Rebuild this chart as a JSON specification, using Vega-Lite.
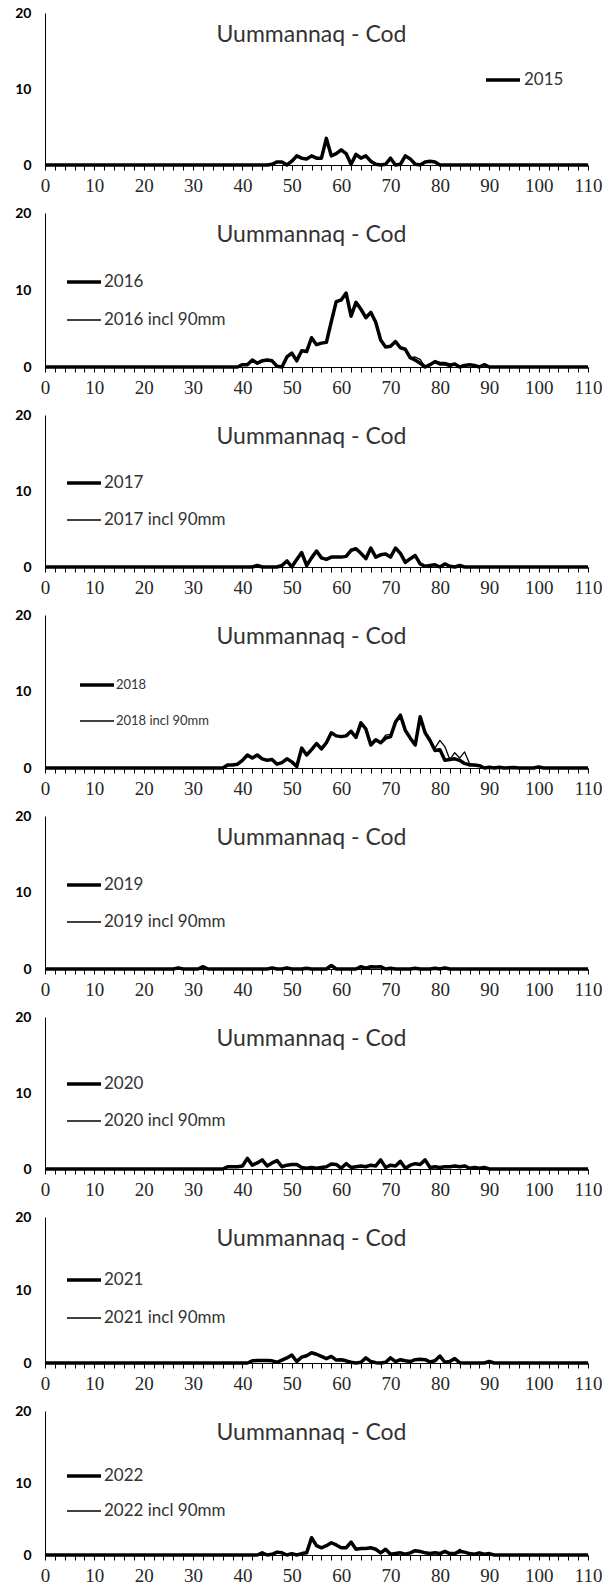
{
"$schema": "https://vega.github.io/schema/vega-lite/v6.json",
"padding": {"left": 14, "top": 6, "right": 0, "bottom": 0},
"background": "white",
"spacing": 48,
"bounds": "flush",
"resolve": {"scale": {"strokeWidth": "independent", "color": "independent"}, "legend": {"strokeWidth": "independent", "color": "independent"}},
"config": {
  "view": {"stroke": null},
  "font": "Lato",
  "title": {"font": "Lato", "fontSize": 23, "fontWeight": "normal", "color": "#333333", "anchor": "middle", "frame": "group", "baseline": "middle", "offset": 0, "dy": 45, "dx": -5},
  "axisX": {"title": null, "grid": false, "domainColor": "black", "tickColor": "black", "tickSize": 5, "labelFont": "Liberation Sans Narrow", "labelFontSize": 19, "labelColor": "#262626", "labelPadding": 6, "labelFlush": false, "labelOverlap": false},
  "axisY": {"title": null, "grid": false, "ticks": false, "tickSize": 0, "domainColor": "black", "labelFont": "Lato", "labelFontWeight": "bold", "labelFontSize": 14, "labelColor": "black", "labelPadding": 14},
  "legend": {"orient": "none", "title": null, "symbolSize": 1156, "symbolStrokeColor": "black", "symbolType": "stroke", "labelFont": "Lato", "labelFontSize": 17, "labelColor": "#333333", "rowPadding": 11, "labelOffset": 1, "padding": 0},
  "line": {"color": "black", "strokeJoin": "round"}
},
"datasets": {
"d2015": [
{"s":"2015","x":0,"y":0},{"s":"2015","x":45,"y":0},{"s":"2015","x":46,"y":0.1},{"s":"2015","x":47,"y":0.4},{"s":"2015","x":48,"y":0.4},{"s":"2015","x":49,"y":0},{"s":"2015","x":50,"y":0.5},{"s":"2015","x":51,"y":1.2},{"s":"2015","x":52,"y":0.9},{"s":"2015","x":53,"y":0.8},{"s":"2015","x":54,"y":1.2},{"s":"2015","x":55,"y":0.9},{"s":"2015","x":56,"y":0.9},{"s":"2015","x":57,"y":3.5},{"s":"2015","x":58,"y":1.2},{"s":"2015","x":59,"y":1.5},{"s":"2015","x":60,"y":2.0},{"s":"2015","x":61,"y":1.5},{"s":"2015","x":62,"y":0.1},{"s":"2015","x":63,"y":1.4},{"s":"2015","x":64,"y":0.9},{"s":"2015","x":65,"y":1.2},{"s":"2015","x":66,"y":0.5},{"s":"2015","x":67,"y":0.1},{"s":"2015","x":68,"y":0},{"s":"2015","x":69,"y":0.1},{"s":"2015","x":70,"y":0.9},{"s":"2015","x":71,"y":0},{"s":"2015","x":72,"y":0.1},{"s":"2015","x":73,"y":1.2},{"s":"2015","x":74,"y":0.8},{"s":"2015","x":75,"y":0.1},{"s":"2015","x":76,"y":0},{"s":"2015","x":77,"y":0.4},{"s":"2015","x":78,"y":0.5},{"s":"2015","x":79,"y":0.4},{"s":"2015","x":80,"y":0},{"s":"2015","x":110,"y":0}
],
"d2016": [
{"s":"2016","x":0,"y":0},{"s":"2016","x":39,"y":0},{"s":"2016","x":40,"y":0.3},{"s":"2016","x":41,"y":0.3},{"s":"2016","x":42,"y":0.9},{"s":"2016","x":43,"y":0.5},{"s":"2016","x":44,"y":0.8},{"s":"2016","x":45,"y":0.9},{"s":"2016","x":46,"y":0.8},{"s":"2016","x":47,"y":0.1},{"s":"2016","x":48,"y":0},{"s":"2016","x":49,"y":1.3},{"s":"2016","x":50,"y":1.8},{"s":"2016","x":51,"y":0.8},{"s":"2016","x":52,"y":2.1},{"s":"2016","x":53,"y":2.0},{"s":"2016","x":54,"y":3.8},{"s":"2016","x":55,"y":2.9},{"s":"2016","x":56,"y":3.1},{"s":"2016","x":57,"y":3.2},{"s":"2016","x":58,"y":5.9},{"s":"2016","x":59,"y":8.5},{"s":"2016","x":60,"y":8.7},{"s":"2016","x":61,"y":9.6},{"s":"2016","x":62,"y":6.6},{"s":"2016","x":63,"y":8.4},{"s":"2016","x":64,"y":7.5},{"s":"2016","x":65,"y":6.4},{"s":"2016","x":66,"y":7.1},{"s":"2016","x":67,"y":5.8},{"s":"2016","x":68,"y":3.5},{"s":"2016","x":69,"y":2.6},{"s":"2016","x":70,"y":2.7},{"s":"2016","x":71,"y":3.3},{"s":"2016","x":72,"y":2.5},{"s":"2016","x":73,"y":2.3},{"s":"2016","x":74,"y":1.2},{"s":"2016","x":75,"y":0.9},{"s":"2016","x":76,"y":0.5},{"s":"2016","x":77,"y":0},{"s":"2016","x":78,"y":0.3},{"s":"2016","x":79,"y":0.7},{"s":"2016","x":80,"y":0.4},{"s":"2016","x":81,"y":0.4},{"s":"2016","x":82,"y":0.2},{"s":"2016","x":83,"y":0.4},{"s":"2016","x":84,"y":0},{"s":"2016","x":85,"y":0.2},{"s":"2016","x":86,"y":0.3},{"s":"2016","x":87,"y":0.2},{"s":"2016","x":88,"y":0},{"s":"2016","x":89,"y":0.3},{"s":"2016","x":90,"y":0},{"s":"2016","x":110,"y":0},
{"s":"2016 incl 90mm","x":0,"y":0},{"s":"2016 incl 90mm","x":39,"y":0},{"s":"2016 incl 90mm","x":40,"y":0.3},{"s":"2016 incl 90mm","x":41,"y":0.3},{"s":"2016 incl 90mm","x":42,"y":0.9},{"s":"2016 incl 90mm","x":43,"y":0.5},{"s":"2016 incl 90mm","x":44,"y":0.8},{"s":"2016 incl 90mm","x":45,"y":0.9},{"s":"2016 incl 90mm","x":46,"y":0.8},{"s":"2016 incl 90mm","x":47,"y":0.1},{"s":"2016 incl 90mm","x":48,"y":0},{"s":"2016 incl 90mm","x":49,"y":1.3},{"s":"2016 incl 90mm","x":50,"y":1.8},{"s":"2016 incl 90mm","x":51,"y":0.8},{"s":"2016 incl 90mm","x":52,"y":2.1},{"s":"2016 incl 90mm","x":53,"y":2.0},{"s":"2016 incl 90mm","x":54,"y":3.8},{"s":"2016 incl 90mm","x":55,"y":2.9},{"s":"2016 incl 90mm","x":56,"y":3.1},{"s":"2016 incl 90mm","x":57,"y":3.2},{"s":"2016 incl 90mm","x":58,"y":5.9},{"s":"2016 incl 90mm","x":59,"y":8.5},{"s":"2016 incl 90mm","x":60,"y":8.7},{"s":"2016 incl 90mm","x":61,"y":9.6},{"s":"2016 incl 90mm","x":62,"y":6.6},{"s":"2016 incl 90mm","x":63,"y":8.4},{"s":"2016 incl 90mm","x":64,"y":7.5},{"s":"2016 incl 90mm","x":65,"y":6.4},{"s":"2016 incl 90mm","x":66,"y":7.1},{"s":"2016 incl 90mm","x":67,"y":5.8},{"s":"2016 incl 90mm","x":68,"y":3.5},{"s":"2016 incl 90mm","x":69,"y":2.6},{"s":"2016 incl 90mm","x":70,"y":2.7},{"s":"2016 incl 90mm","x":71,"y":3.3},{"s":"2016 incl 90mm","x":72,"y":2.5},{"s":"2016 incl 90mm","x":73,"y":2.3},{"s":"2016 incl 90mm","x":74,"y":1.2},{"s":"2016 incl 90mm","x":75,"y":1.3},{"s":"2016 incl 90mm","x":76,"y":1.0},{"s":"2016 incl 90mm","x":77,"y":0},{"s":"2016 incl 90mm","x":78,"y":0.3},{"s":"2016 incl 90mm","x":79,"y":0.8},{"s":"2016 incl 90mm","x":80,"y":0.6},{"s":"2016 incl 90mm","x":81,"y":0.6},{"s":"2016 incl 90mm","x":82,"y":0.4},{"s":"2016 incl 90mm","x":83,"y":0.4},{"s":"2016 incl 90mm","x":84,"y":0},{"s":"2016 incl 90mm","x":85,"y":0.2},{"s":"2016 incl 90mm","x":86,"y":0.3},{"s":"2016 incl 90mm","x":87,"y":0.2},{"s":"2016 incl 90mm","x":88,"y":0},{"s":"2016 incl 90mm","x":89,"y":0.3},{"s":"2016 incl 90mm","x":90,"y":0},{"s":"2016 incl 90mm","x":110,"y":0}
],
"d2017": [
{"s":"2017","x":0,"y":0},{"s":"2017","x":42,"y":0},{"s":"2017","x":43,"y":0.2},{"s":"2017","x":44,"y":0},{"s":"2017","x":47,"y":0},{"s":"2017","x":48,"y":0.2},{"s":"2017","x":49,"y":0.8},{"s":"2017","x":50,"y":0},{"s":"2017","x":51,"y":1.0},{"s":"2017","x":52,"y":1.9},{"s":"2017","x":53,"y":0.2},{"s":"2017","x":54,"y":1.2},{"s":"2017","x":55,"y":2.1},{"s":"2017","x":56,"y":1.2},{"s":"2017","x":57,"y":1.0},{"s":"2017","x":58,"y":1.3},{"s":"2017","x":59,"y":1.3},{"s":"2017","x":60,"y":1.3},{"s":"2017","x":61,"y":1.4},{"s":"2017","x":62,"y":2.2},{"s":"2017","x":63,"y":2.4},{"s":"2017","x":64,"y":1.8},{"s":"2017","x":65,"y":1.1},{"s":"2017","x":66,"y":2.5},{"s":"2017","x":67,"y":1.3},{"s":"2017","x":68,"y":1.6},{"s":"2017","x":69,"y":1.7},{"s":"2017","x":70,"y":1.3},{"s":"2017","x":71,"y":2.5},{"s":"2017","x":72,"y":1.8},{"s":"2017","x":73,"y":0.6},{"s":"2017","x":74,"y":1.1},{"s":"2017","x":75,"y":1.5},{"s":"2017","x":76,"y":0.4},{"s":"2017","x":77,"y":0.1},{"s":"2017","x":78,"y":0.2},{"s":"2017","x":79,"y":0.3},{"s":"2017","x":80,"y":0},{"s":"2017","x":81,"y":0.4},{"s":"2017","x":82,"y":0.1},{"s":"2017","x":83,"y":0},{"s":"2017","x":84,"y":0.2},{"s":"2017","x":85,"y":0},{"s":"2017","x":110,"y":0},
{"s":"2017 incl 90mm","x":0,"y":0},{"s":"2017 incl 90mm","x":42,"y":0},{"s":"2017 incl 90mm","x":43,"y":0.2},{"s":"2017 incl 90mm","x":44,"y":0},{"s":"2017 incl 90mm","x":47,"y":0},{"s":"2017 incl 90mm","x":48,"y":0.2},{"s":"2017 incl 90mm","x":49,"y":0.8},{"s":"2017 incl 90mm","x":50,"y":0},{"s":"2017 incl 90mm","x":51,"y":1.0},{"s":"2017 incl 90mm","x":52,"y":1.9},{"s":"2017 incl 90mm","x":53,"y":0.2},{"s":"2017 incl 90mm","x":54,"y":1.2},{"s":"2017 incl 90mm","x":55,"y":2.1},{"s":"2017 incl 90mm","x":56,"y":1.2},{"s":"2017 incl 90mm","x":57,"y":1.0},{"s":"2017 incl 90mm","x":58,"y":1.3},{"s":"2017 incl 90mm","x":59,"y":1.3},{"s":"2017 incl 90mm","x":60,"y":1.3},{"s":"2017 incl 90mm","x":61,"y":1.4},{"s":"2017 incl 90mm","x":62,"y":2.2},{"s":"2017 incl 90mm","x":63,"y":2.4},{"s":"2017 incl 90mm","x":64,"y":1.8},{"s":"2017 incl 90mm","x":65,"y":1.1},{"s":"2017 incl 90mm","x":66,"y":2.5},{"s":"2017 incl 90mm","x":67,"y":1.3},{"s":"2017 incl 90mm","x":68,"y":1.6},{"s":"2017 incl 90mm","x":69,"y":1.7},{"s":"2017 incl 90mm","x":70,"y":1.3},{"s":"2017 incl 90mm","x":71,"y":2.5},{"s":"2017 incl 90mm","x":72,"y":1.8},{"s":"2017 incl 90mm","x":73,"y":0.6},{"s":"2017 incl 90mm","x":74,"y":1.1},{"s":"2017 incl 90mm","x":75,"y":1.5},{"s":"2017 incl 90mm","x":76,"y":0.4},{"s":"2017 incl 90mm","x":77,"y":0.1},{"s":"2017 incl 90mm","x":78,"y":0.2},{"s":"2017 incl 90mm","x":79,"y":0.3},{"s":"2017 incl 90mm","x":80,"y":0},{"s":"2017 incl 90mm","x":81,"y":0.4},{"s":"2017 incl 90mm","x":82,"y":0.1},{"s":"2017 incl 90mm","x":83,"y":0},{"s":"2017 incl 90mm","x":84,"y":0.2},{"s":"2017 incl 90mm","x":85,"y":0},{"s":"2017 incl 90mm","x":110,"y":0}
],
"d2018": [
{"s":"2018","x":0,"y":0},{"s":"2018","x":36,"y":0},{"s":"2018","x":37,"y":0.4},{"s":"2018","x":38,"y":0.4},{"s":"2018","x":39,"y":0.5},{"s":"2018","x":40,"y":1.0},{"s":"2018","x":41,"y":1.7},{"s":"2018","x":42,"y":1.3},{"s":"2018","x":43,"y":1.7},{"s":"2018","x":44,"y":1.2},{"s":"2018","x":45,"y":1.0},{"s":"2018","x":46,"y":1.1},{"s":"2018","x":47,"y":0.5},{"s":"2018","x":48,"y":0.7},{"s":"2018","x":49,"y":1.2},{"s":"2018","x":50,"y":0.8},{"s":"2018","x":51,"y":0.2},{"s":"2018","x":52,"y":2.6},{"s":"2018","x":53,"y":1.7},{"s":"2018","x":54,"y":2.4},{"s":"2018","x":55,"y":3.2},{"s":"2018","x":56,"y":2.5},{"s":"2018","x":57,"y":3.3},{"s":"2018","x":58,"y":4.6},{"s":"2018","x":59,"y":4.2},{"s":"2018","x":60,"y":4.1},{"s":"2018","x":61,"y":4.2},{"s":"2018","x":62,"y":4.8},{"s":"2018","x":63,"y":4.0},{"s":"2018","x":64,"y":5.9},{"s":"2018","x":65,"y":5.1},{"s":"2018","x":66,"y":3.0},{"s":"2018","x":67,"y":3.7},{"s":"2018","x":68,"y":3.3},{"s":"2018","x":69,"y":3.9},{"s":"2018","x":70,"y":4.1},{"s":"2018","x":71,"y":6.0},{"s":"2018","x":72,"y":6.9},{"s":"2018","x":73,"y":4.9},{"s":"2018","x":74,"y":3.9},{"s":"2018","x":75,"y":3.0},{"s":"2018","x":76,"y":6.7},{"s":"2018","x":77,"y":4.6},{"s":"2018","x":78,"y":3.6},{"s":"2018","x":79,"y":2.3},{"s":"2018","x":80,"y":2.4},{"s":"2018","x":81,"y":1.0},{"s":"2018","x":82,"y":1.1},{"s":"2018","x":83,"y":1.2},{"s":"2018","x":84,"y":1.0},{"s":"2018","x":85,"y":0.6},{"s":"2018","x":86,"y":0.4},{"s":"2018","x":87,"y":0.4},{"s":"2018","x":88,"y":0.3},{"s":"2018","x":89,"y":0},{"s":"2018","x":90,"y":0.1},{"s":"2018","x":91,"y":0},{"s":"2018","x":92,"y":0.1},{"s":"2018","x":93,"y":0},{"s":"2018","x":95,"y":0.05},{"s":"2018","x":96,"y":0},{"s":"2018","x":99,"y":0},{"s":"2018","x":100,"y":0.15},{"s":"2018","x":101,"y":0},{"s":"2018","x":110,"y":0},
{"s":"2018 incl 90mm","x":0,"y":0},{"s":"2018 incl 90mm","x":36,"y":0},{"s":"2018 incl 90mm","x":37,"y":0.4},{"s":"2018 incl 90mm","x":38,"y":0.4},{"s":"2018 incl 90mm","x":39,"y":0.5},{"s":"2018 incl 90mm","x":40,"y":1.0},{"s":"2018 incl 90mm","x":41,"y":1.7},{"s":"2018 incl 90mm","x":42,"y":1.3},{"s":"2018 incl 90mm","x":43,"y":1.7},{"s":"2018 incl 90mm","x":44,"y":1.2},{"s":"2018 incl 90mm","x":45,"y":1.0},{"s":"2018 incl 90mm","x":46,"y":1.1},{"s":"2018 incl 90mm","x":47,"y":0.5},{"s":"2018 incl 90mm","x":48,"y":0.7},{"s":"2018 incl 90mm","x":49,"y":1.2},{"s":"2018 incl 90mm","x":50,"y":0.8},{"s":"2018 incl 90mm","x":51,"y":0.2},{"s":"2018 incl 90mm","x":52,"y":2.6},{"s":"2018 incl 90mm","x":53,"y":1.7},{"s":"2018 incl 90mm","x":54,"y":2.4},{"s":"2018 incl 90mm","x":55,"y":3.2},{"s":"2018 incl 90mm","x":56,"y":2.5},{"s":"2018 incl 90mm","x":57,"y":3.3},{"s":"2018 incl 90mm","x":58,"y":4.6},{"s":"2018 incl 90mm","x":59,"y":4.2},{"s":"2018 incl 90mm","x":60,"y":4.1},{"s":"2018 incl 90mm","x":61,"y":4.2},{"s":"2018 incl 90mm","x":62,"y":4.8},{"s":"2018 incl 90mm","x":63,"y":4.0},{"s":"2018 incl 90mm","x":64,"y":5.9},{"s":"2018 incl 90mm","x":65,"y":5.1},{"s":"2018 incl 90mm","x":66,"y":3.0},{"s":"2018 incl 90mm","x":67,"y":3.7},{"s":"2018 incl 90mm","x":68,"y":3.4},{"s":"2018 incl 90mm","x":69,"y":4.3},{"s":"2018 incl 90mm","x":70,"y":4.4},{"s":"2018 incl 90mm","x":71,"y":6.0},{"s":"2018 incl 90mm","x":72,"y":6.9},{"s":"2018 incl 90mm","x":73,"y":4.9},{"s":"2018 incl 90mm","x":74,"y":3.9},{"s":"2018 incl 90mm","x":75,"y":3.0},{"s":"2018 incl 90mm","x":76,"y":6.7},{"s":"2018 incl 90mm","x":77,"y":4.6},{"s":"2018 incl 90mm","x":78,"y":3.6},{"s":"2018 incl 90mm","x":79,"y":2.6},{"s":"2018 incl 90mm","x":80,"y":3.6},{"s":"2018 incl 90mm","x":81,"y":2.8},{"s":"2018 incl 90mm","x":82,"y":1.1},{"s":"2018 incl 90mm","x":83,"y":2.0},{"s":"2018 incl 90mm","x":84,"y":1.3},{"s":"2018 incl 90mm","x":85,"y":2.1},{"s":"2018 incl 90mm","x":86,"y":0.6},{"s":"2018 incl 90mm","x":87,"y":0.4},{"s":"2018 incl 90mm","x":88,"y":0.3},{"s":"2018 incl 90mm","x":89,"y":0},{"s":"2018 incl 90mm","x":90,"y":0.1},{"s":"2018 incl 90mm","x":91,"y":0},{"s":"2018 incl 90mm","x":92,"y":0.1},{"s":"2018 incl 90mm","x":93,"y":0},{"s":"2018 incl 90mm","x":95,"y":0.05},{"s":"2018 incl 90mm","x":96,"y":0},{"s":"2018 incl 90mm","x":99,"y":0},{"s":"2018 incl 90mm","x":100,"y":0.15},{"s":"2018 incl 90mm","x":101,"y":0},{"s":"2018 incl 90mm","x":110,"y":0}
],
"d2019": [
{"s":"2019","x":0,"y":0},{"s":"2019","x":26,"y":0},{"s":"2019","x":27,"y":0.15},{"s":"2019","x":28,"y":0},{"s":"2019","x":31,"y":0},{"s":"2019","x":32,"y":0.3},{"s":"2019","x":33,"y":0},{"s":"2019","x":45,"y":0},{"s":"2019","x":46,"y":0.15},{"s":"2019","x":47,"y":0},{"s":"2019","x":48,"y":0},{"s":"2019","x":49,"y":0.15},{"s":"2019","x":50,"y":0},{"s":"2019","x":52,"y":0},{"s":"2019","x":53,"y":0.1},{"s":"2019","x":54,"y":0},{"s":"2019","x":57,"y":0},{"s":"2019","x":58,"y":0.45},{"s":"2019","x":59,"y":0},{"s":"2019","x":63,"y":0},{"s":"2019","x":64,"y":0.3},{"s":"2019","x":65,"y":0.1},{"s":"2019","x":66,"y":0.3},{"s":"2019","x":67,"y":0.25},{"s":"2019","x":68,"y":0.3},{"s":"2019","x":69,"y":0},{"s":"2019","x":70,"y":0.1},{"s":"2019","x":71,"y":0},{"s":"2019","x":74,"y":0},{"s":"2019","x":75,"y":0.1},{"s":"2019","x":76,"y":0},{"s":"2019","x":78,"y":0},{"s":"2019","x":79,"y":0.1},{"s":"2019","x":80,"y":0},{"s":"2019","x":81,"y":0.15},{"s":"2019","x":82,"y":0},{"s":"2019","x":110,"y":0},
{"s":"2019 incl 90mm","x":0,"y":0},{"s":"2019 incl 90mm","x":26,"y":0},{"s":"2019 incl 90mm","x":27,"y":0.15},{"s":"2019 incl 90mm","x":28,"y":0},{"s":"2019 incl 90mm","x":31,"y":0},{"s":"2019 incl 90mm","x":32,"y":0.3},{"s":"2019 incl 90mm","x":33,"y":0},{"s":"2019 incl 90mm","x":45,"y":0},{"s":"2019 incl 90mm","x":46,"y":0.15},{"s":"2019 incl 90mm","x":47,"y":0},{"s":"2019 incl 90mm","x":48,"y":0},{"s":"2019 incl 90mm","x":49,"y":0.15},{"s":"2019 incl 90mm","x":50,"y":0},{"s":"2019 incl 90mm","x":52,"y":0},{"s":"2019 incl 90mm","x":53,"y":0.1},{"s":"2019 incl 90mm","x":54,"y":0},{"s":"2019 incl 90mm","x":57,"y":0},{"s":"2019 incl 90mm","x":58,"y":0.45},{"s":"2019 incl 90mm","x":59,"y":0},{"s":"2019 incl 90mm","x":63,"y":0},{"s":"2019 incl 90mm","x":64,"y":0.3},{"s":"2019 incl 90mm","x":65,"y":0.1},{"s":"2019 incl 90mm","x":66,"y":0.3},{"s":"2019 incl 90mm","x":67,"y":0.25},{"s":"2019 incl 90mm","x":68,"y":0.3},{"s":"2019 incl 90mm","x":69,"y":0},{"s":"2019 incl 90mm","x":70,"y":0.1},{"s":"2019 incl 90mm","x":71,"y":0},{"s":"2019 incl 90mm","x":74,"y":0},{"s":"2019 incl 90mm","x":75,"y":0.1},{"s":"2019 incl 90mm","x":76,"y":0},{"s":"2019 incl 90mm","x":78,"y":0},{"s":"2019 incl 90mm","x":79,"y":0.1},{"s":"2019 incl 90mm","x":80,"y":0},{"s":"2019 incl 90mm","x":81,"y":0.15},{"s":"2019 incl 90mm","x":82,"y":0},{"s":"2019 incl 90mm","x":110,"y":0}
],
"d2020": [
{"s":"2020","x":0,"y":0},{"s":"2020","x":36,"y":0},{"s":"2020","x":37,"y":0.3},{"s":"2020","x":38,"y":0.3},{"s":"2020","x":39,"y":0.3},{"s":"2020","x":40,"y":0.4},{"s":"2020","x":41,"y":1.4},{"s":"2020","x":42,"y":0.5},{"s":"2020","x":43,"y":0.8},{"s":"2020","x":44,"y":1.2},{"s":"2020","x":45,"y":0.4},{"s":"2020","x":46,"y":0.8},{"s":"2020","x":47,"y":1.1},{"s":"2020","x":48,"y":0.3},{"s":"2020","x":49,"y":0.5},{"s":"2020","x":50,"y":0.6},{"s":"2020","x":51,"y":0.6},{"s":"2020","x":52,"y":0.2},{"s":"2020","x":53,"y":0.1},{"s":"2020","x":54,"y":0.2},{"s":"2020","x":55,"y":0.1},{"s":"2020","x":56,"y":0.2},{"s":"2020","x":57,"y":0.3},{"s":"2020","x":58,"y":0.65},{"s":"2020","x":59,"y":0.6},{"s":"2020","x":60,"y":0.1},{"s":"2020","x":61,"y":0.7},{"s":"2020","x":62,"y":0.2},{"s":"2020","x":63,"y":0.3},{"s":"2020","x":64,"y":0.4},{"s":"2020","x":65,"y":0.3},{"s":"2020","x":66,"y":0.5},{"s":"2020","x":67,"y":0.4},{"s":"2020","x":68,"y":1.2},{"s":"2020","x":69,"y":0.2},{"s":"2020","x":70,"y":0.5},{"s":"2020","x":71,"y":0.4},{"s":"2020","x":72,"y":1.0},{"s":"2020","x":73,"y":0.1},{"s":"2020","x":74,"y":0.5},{"s":"2020","x":75,"y":0.7},{"s":"2020","x":76,"y":0.6},{"s":"2020","x":77,"y":1.2},{"s":"2020","x":78,"y":0.2},{"s":"2020","x":79,"y":0.3},{"s":"2020","x":80,"y":0.2},{"s":"2020","x":81,"y":0.3},{"s":"2020","x":82,"y":0.3},{"s":"2020","x":83,"y":0.4},{"s":"2020","x":84,"y":0.3},{"s":"2020","x":85,"y":0.4},{"s":"2020","x":86,"y":0.1},{"s":"2020","x":87,"y":0.2},{"s":"2020","x":88,"y":0.1},{"s":"2020","x":89,"y":0.2},{"s":"2020","x":90,"y":0},{"s":"2020","x":110,"y":0},
{"s":"2020 incl 90mm","x":0,"y":0},{"s":"2020 incl 90mm","x":36,"y":0},{"s":"2020 incl 90mm","x":37,"y":0.3},{"s":"2020 incl 90mm","x":38,"y":0.3},{"s":"2020 incl 90mm","x":39,"y":0.3},{"s":"2020 incl 90mm","x":40,"y":0.4},{"s":"2020 incl 90mm","x":41,"y":1.4},{"s":"2020 incl 90mm","x":42,"y":0.5},{"s":"2020 incl 90mm","x":43,"y":0.8},{"s":"2020 incl 90mm","x":44,"y":1.2},{"s":"2020 incl 90mm","x":45,"y":0.4},{"s":"2020 incl 90mm","x":46,"y":0.8},{"s":"2020 incl 90mm","x":47,"y":1.1},{"s":"2020 incl 90mm","x":48,"y":0.3},{"s":"2020 incl 90mm","x":49,"y":0.5},{"s":"2020 incl 90mm","x":50,"y":0.6},{"s":"2020 incl 90mm","x":51,"y":0.6},{"s":"2020 incl 90mm","x":52,"y":0.2},{"s":"2020 incl 90mm","x":53,"y":0.1},{"s":"2020 incl 90mm","x":54,"y":0.2},{"s":"2020 incl 90mm","x":55,"y":0.1},{"s":"2020 incl 90mm","x":56,"y":0.2},{"s":"2020 incl 90mm","x":57,"y":0.3},{"s":"2020 incl 90mm","x":58,"y":0.65},{"s":"2020 incl 90mm","x":59,"y":0.6},{"s":"2020 incl 90mm","x":60,"y":0.1},{"s":"2020 incl 90mm","x":61,"y":0.7},{"s":"2020 incl 90mm","x":62,"y":0.2},{"s":"2020 incl 90mm","x":63,"y":0.3},{"s":"2020 incl 90mm","x":64,"y":0.4},{"s":"2020 incl 90mm","x":65,"y":0.3},{"s":"2020 incl 90mm","x":66,"y":0.5},{"s":"2020 incl 90mm","x":67,"y":0.4},{"s":"2020 incl 90mm","x":68,"y":1.2},{"s":"2020 incl 90mm","x":69,"y":0.2},{"s":"2020 incl 90mm","x":70,"y":0.5},{"s":"2020 incl 90mm","x":71,"y":0.4},{"s":"2020 incl 90mm","x":72,"y":1.0},{"s":"2020 incl 90mm","x":73,"y":0.1},{"s":"2020 incl 90mm","x":74,"y":0.5},{"s":"2020 incl 90mm","x":75,"y":0.7},{"s":"2020 incl 90mm","x":76,"y":0.6},{"s":"2020 incl 90mm","x":77,"y":1.2},{"s":"2020 incl 90mm","x":78,"y":0.2},{"s":"2020 incl 90mm","x":79,"y":0.3},{"s":"2020 incl 90mm","x":80,"y":0.2},{"s":"2020 incl 90mm","x":81,"y":0.3},{"s":"2020 incl 90mm","x":82,"y":0.3},{"s":"2020 incl 90mm","x":83,"y":0.4},{"s":"2020 incl 90mm","x":84,"y":0.3},{"s":"2020 incl 90mm","x":85,"y":0.4},{"s":"2020 incl 90mm","x":86,"y":0.1},{"s":"2020 incl 90mm","x":87,"y":0.2},{"s":"2020 incl 90mm","x":88,"y":0.1},{"s":"2020 incl 90mm","x":89,"y":0.2},{"s":"2020 incl 90mm","x":90,"y":0},{"s":"2020 incl 90mm","x":110,"y":0}
],
"d2021": [
{"s":"2021","x":0,"y":0},{"s":"2021","x":41,"y":0},{"s":"2021","x":42,"y":0.3},{"s":"2021","x":43,"y":0.35},{"s":"2021","x":44,"y":0.35},{"s":"2021","x":45,"y":0.35},{"s":"2021","x":46,"y":0.3},{"s":"2021","x":47,"y":0.1},{"s":"2021","x":48,"y":0.4},{"s":"2021","x":49,"y":0.7},{"s":"2021","x":50,"y":1.1},{"s":"2021","x":51,"y":0.2},{"s":"2021","x":52,"y":0.8},{"s":"2021","x":53,"y":1.0},{"s":"2021","x":54,"y":1.4},{"s":"2021","x":55,"y":1.2},{"s":"2021","x":56,"y":0.9},{"s":"2021","x":57,"y":0.6},{"s":"2021","x":58,"y":0.9},{"s":"2021","x":59,"y":0.4},{"s":"2021","x":60,"y":0.45},{"s":"2021","x":61,"y":0.3},{"s":"2021","x":62,"y":0.1},{"s":"2021","x":63,"y":0},{"s":"2021","x":64,"y":0.1},{"s":"2021","x":65,"y":0.7},{"s":"2021","x":66,"y":0.2},{"s":"2021","x":67,"y":0.05},{"s":"2021","x":68,"y":0},{"s":"2021","x":69,"y":0.1},{"s":"2021","x":70,"y":0.7},{"s":"2021","x":71,"y":0.2},{"s":"2021","x":72,"y":0.45},{"s":"2021","x":73,"y":0.3},{"s":"2021","x":74,"y":0.2},{"s":"2021","x":75,"y":0.45},{"s":"2021","x":76,"y":0.5},{"s":"2021","x":77,"y":0.45},{"s":"2021","x":78,"y":0.15},{"s":"2021","x":79,"y":0.3},{"s":"2021","x":80,"y":0.95},{"s":"2021","x":81,"y":0.1},{"s":"2021","x":82,"y":0.2},{"s":"2021","x":83,"y":0.6},{"s":"2021","x":84,"y":0.05},{"s":"2021","x":85,"y":0},{"s":"2021","x":89,"y":0},{"s":"2021","x":90,"y":0.2},{"s":"2021","x":91,"y":0},{"s":"2021","x":110,"y":0},
{"s":"2021 incl 90mm","x":0,"y":0},{"s":"2021 incl 90mm","x":41,"y":0},{"s":"2021 incl 90mm","x":42,"y":0.3},{"s":"2021 incl 90mm","x":43,"y":0.35},{"s":"2021 incl 90mm","x":44,"y":0.35},{"s":"2021 incl 90mm","x":45,"y":0.35},{"s":"2021 incl 90mm","x":46,"y":0.3},{"s":"2021 incl 90mm","x":47,"y":0.1},{"s":"2021 incl 90mm","x":48,"y":0.4},{"s":"2021 incl 90mm","x":49,"y":0.7},{"s":"2021 incl 90mm","x":50,"y":1.1},{"s":"2021 incl 90mm","x":51,"y":0.2},{"s":"2021 incl 90mm","x":52,"y":0.8},{"s":"2021 incl 90mm","x":53,"y":1.0},{"s":"2021 incl 90mm","x":54,"y":1.4},{"s":"2021 incl 90mm","x":55,"y":1.2},{"s":"2021 incl 90mm","x":56,"y":0.9},{"s":"2021 incl 90mm","x":57,"y":0.6},{"s":"2021 incl 90mm","x":58,"y":0.9},{"s":"2021 incl 90mm","x":59,"y":0.4},{"s":"2021 incl 90mm","x":60,"y":0.45},{"s":"2021 incl 90mm","x":61,"y":0.3},{"s":"2021 incl 90mm","x":62,"y":0.1},{"s":"2021 incl 90mm","x":63,"y":0},{"s":"2021 incl 90mm","x":64,"y":0.1},{"s":"2021 incl 90mm","x":65,"y":0.7},{"s":"2021 incl 90mm","x":66,"y":0.2},{"s":"2021 incl 90mm","x":67,"y":0.05},{"s":"2021 incl 90mm","x":68,"y":0},{"s":"2021 incl 90mm","x":69,"y":0.1},{"s":"2021 incl 90mm","x":70,"y":0.7},{"s":"2021 incl 90mm","x":71,"y":0.2},{"s":"2021 incl 90mm","x":72,"y":0.45},{"s":"2021 incl 90mm","x":73,"y":0.3},{"s":"2021 incl 90mm","x":74,"y":0.2},{"s":"2021 incl 90mm","x":75,"y":0.45},{"s":"2021 incl 90mm","x":76,"y":0.5},{"s":"2021 incl 90mm","x":77,"y":0.45},{"s":"2021 incl 90mm","x":78,"y":0.15},{"s":"2021 incl 90mm","x":79,"y":0.3},{"s":"2021 incl 90mm","x":80,"y":0.95},{"s":"2021 incl 90mm","x":81,"y":0.1},{"s":"2021 incl 90mm","x":82,"y":0.2},{"s":"2021 incl 90mm","x":83,"y":0.6},{"s":"2021 incl 90mm","x":84,"y":0.05},{"s":"2021 incl 90mm","x":85,"y":0},{"s":"2021 incl 90mm","x":89,"y":0},{"s":"2021 incl 90mm","x":90,"y":0.2},{"s":"2021 incl 90mm","x":91,"y":0},{"s":"2021 incl 90mm","x":110,"y":0}
],
"d2022": [
{"s":"2022","x":0,"y":0},{"s":"2022","x":43,"y":0},{"s":"2022","x":44,"y":0.3},{"s":"2022","x":45,"y":0},{"s":"2022","x":46,"y":0.1},{"s":"2022","x":47,"y":0.4},{"s":"2022","x":48,"y":0.3},{"s":"2022","x":49,"y":0},{"s":"2022","x":50,"y":0.2},{"s":"2022","x":51,"y":0},{"s":"2022","x":52,"y":0.2},{"s":"2022","x":53,"y":0.3},{"s":"2022","x":54,"y":2.4},{"s":"2022","x":55,"y":1.3},{"s":"2022","x":56,"y":1.0},{"s":"2022","x":57,"y":1.3},{"s":"2022","x":58,"y":1.7},{"s":"2022","x":59,"y":1.4},{"s":"2022","x":60,"y":1.0},{"s":"2022","x":61,"y":1.0},{"s":"2022","x":62,"y":1.8},{"s":"2022","x":63,"y":0.8},{"s":"2022","x":64,"y":0.9},{"s":"2022","x":65,"y":0.9},{"s":"2022","x":66,"y":1.0},{"s":"2022","x":67,"y":0.8},{"s":"2022","x":68,"y":0.3},{"s":"2022","x":69,"y":0.8},{"s":"2022","x":70,"y":0.1},{"s":"2022","x":71,"y":0.2},{"s":"2022","x":72,"y":0.3},{"s":"2022","x":73,"y":0.1},{"s":"2022","x":74,"y":0.3},{"s":"2022","x":75,"y":0.6},{"s":"2022","x":76,"y":0.5},{"s":"2022","x":77,"y":0.3},{"s":"2022","x":78,"y":0.2},{"s":"2022","x":79,"y":0.3},{"s":"2022","x":80,"y":0.2},{"s":"2022","x":81,"y":0.5},{"s":"2022","x":82,"y":0.2},{"s":"2022","x":83,"y":0.2},{"s":"2022","x":84,"y":0.5},{"s":"2022","x":85,"y":0.4},{"s":"2022","x":86,"y":0.2},{"s":"2022","x":87,"y":0.1},{"s":"2022","x":88,"y":0.3},{"s":"2022","x":89,"y":0.1},{"s":"2022","x":90,"y":0.2},{"s":"2022","x":91,"y":0},{"s":"2022","x":110,"y":0},
{"s":"2022 incl 90mm","x":0,"y":0},{"s":"2022 incl 90mm","x":43,"y":0},{"s":"2022 incl 90mm","x":44,"y":0.3},{"s":"2022 incl 90mm","x":45,"y":0},{"s":"2022 incl 90mm","x":46,"y":0.1},{"s":"2022 incl 90mm","x":47,"y":0.4},{"s":"2022 incl 90mm","x":48,"y":0.3},{"s":"2022 incl 90mm","x":49,"y":0},{"s":"2022 incl 90mm","x":50,"y":0.2},{"s":"2022 incl 90mm","x":51,"y":0},{"s":"2022 incl 90mm","x":52,"y":0.2},{"s":"2022 incl 90mm","x":53,"y":0.3},{"s":"2022 incl 90mm","x":54,"y":2.4},{"s":"2022 incl 90mm","x":55,"y":1.3},{"s":"2022 incl 90mm","x":56,"y":1.0},{"s":"2022 incl 90mm","x":57,"y":1.3},{"s":"2022 incl 90mm","x":58,"y":1.7},{"s":"2022 incl 90mm","x":59,"y":1.4},{"s":"2022 incl 90mm","x":60,"y":1.0},{"s":"2022 incl 90mm","x":61,"y":1.0},{"s":"2022 incl 90mm","x":62,"y":1.8},{"s":"2022 incl 90mm","x":63,"y":0.8},{"s":"2022 incl 90mm","x":64,"y":0.9},{"s":"2022 incl 90mm","x":65,"y":0.9},{"s":"2022 incl 90mm","x":66,"y":1.0},{"s":"2022 incl 90mm","x":67,"y":0.8},{"s":"2022 incl 90mm","x":68,"y":0.3},{"s":"2022 incl 90mm","x":69,"y":0.8},{"s":"2022 incl 90mm","x":70,"y":0.1},{"s":"2022 incl 90mm","x":71,"y":0.2},{"s":"2022 incl 90mm","x":72,"y":0.3},{"s":"2022 incl 90mm","x":73,"y":0.1},{"s":"2022 incl 90mm","x":74,"y":0.3},{"s":"2022 incl 90mm","x":75,"y":0.6},{"s":"2022 incl 90mm","x":76,"y":0.5},{"s":"2022 incl 90mm","x":77,"y":0.3},{"s":"2022 incl 90mm","x":78,"y":0.2},{"s":"2022 incl 90mm","x":79,"y":0.3},{"s":"2022 incl 90mm","x":80,"y":0.2},{"s":"2022 incl 90mm","x":81,"y":0.5},{"s":"2022 incl 90mm","x":82,"y":0.2},{"s":"2022 incl 90mm","x":83,"y":0.2},{"s":"2022 incl 90mm","x":84,"y":0.8},{"s":"2022 incl 90mm","x":85,"y":0.4},{"s":"2022 incl 90mm","x":86,"y":0.2},{"s":"2022 incl 90mm","x":87,"y":0.1},{"s":"2022 incl 90mm","x":88,"y":0.3},{"s":"2022 incl 90mm","x":89,"y":0.1},{"s":"2022 incl 90mm","x":90,"y":0.2},{"s":"2022 incl 90mm","x":91,"y":0},{"s":"2022 incl 90mm","x":110,"y":0}
]
},
"vconcat": [
{"width": 543, "height": 152, "title": "Uummannaq - Cod", "data": {"name": "d2015"}, "mark": "line",
 "encoding": {
  "x": {"field": "x", "type": "quantitative", "scale": {"domain": [0, 110], "nice": false}, "axis": {"values": [0,2,4,6,8,10,12,14,16,18,20,22,24,26,28,30,32,34,36,38,40,42,44,46,48,50,52,54,56,58,60,62,64,66,68,70,72,74,76,78,80,82,84,86,88,90,92,94,96,98,100,102,104,106,108,110], "labelExpr": "datum.value % 10 == 0 ? datum.label : ''"}},
  "y": {"field": "y", "type": "quantitative", "scale": {"domain": [0, 20], "nice": false}, "axis": {"values": [0, 10, 20]}},
  "strokeWidth": {"value": 3.5},
  "color": {"field": "s", "type": "nominal", "scale": {"domain": ["2015"], "range": ["black"]}, "legend": {"legendX": 439, "legendY": 48, "symbolStrokeWidth": 3.5, "labelOffset": 2}}
 }},
{"width": 543, "height": 154, "title": "Uummannaq - Cod", "data": {"name": "d2016"}, "mark": "line",
 "encoding": {
  "x": {"field": "x", "type": "quantitative", "scale": {"domain": [0, 110], "nice": false}, "axis": {"values": [0,2,4,6,8,10,12,14,16,18,20,22,24,26,28,30,32,34,36,38,40,42,44,46,48,50,52,54,56,58,60,62,64,66,68,70,72,74,76,78,80,82,84,86,88,90,92,94,96,98,100,102,104,106,108,110], "labelExpr": "datum.value % 10 == 0 ? datum.label : ''"}},
  "y": {"field": "y", "type": "quantitative", "scale": {"domain": [0, 20], "nice": false}, "axis": {"values": [0, 10, 20]}},
  "strokeWidth": {"field": "s", "type": "nominal", "scale": {"domain": ["2016", "2016 incl 90mm"], "range": [3.5, 1.3]}, "legend": {"legendX": 20, "legendY": 50, "rowPadding": 12}}
 }},
{"width": 543, "height": 152, "title": "Uummannaq - Cod", "data": {"name": "d2017"}, "mark": "line",
 "encoding": {
  "x": {"field": "x", "type": "quantitative", "scale": {"domain": [0, 110], "nice": false}, "axis": {"values": [0,2,4,6,8,10,12,14,16,18,20,22,24,26,28,30,32,34,36,38,40,42,44,46,48,50,52,54,56,58,60,62,64,66,68,70,72,74,76,78,80,82,84,86,88,90,92,94,96,98,100,102,104,106,108,110], "labelExpr": "datum.value % 10 == 0 ? datum.label : ''"}},
  "y": {"field": "y", "type": "quantitative", "scale": {"domain": [0, 20], "nice": false}, "axis": {"values": [0, 10, 20]}},
  "strokeWidth": {"field": "s", "type": "nominal", "scale": {"domain": ["2017", "2017 incl 90mm"], "range": [3.5, 1.3]}, "legend": {"legendX": 20, "legendY": 49, "rowPadding": 11}}
 }},
{"width": 543, "height": 153, "title": "Uummannaq - Cod", "data": {"name": "d2018"}, "mark": "line",
 "encoding": {
  "x": {"field": "x", "type": "quantitative", "scale": {"domain": [0, 110], "nice": false}, "axis": {"values": [0,2,4,6,8,10,12,14,16,18,20,22,24,26,28,30,32,34,36,38,40,42,44,46,48,50,52,54,56,58,60,62,64,66,68,70,72,74,76,78,80,82,84,86,88,90,92,94,96,98,100,102,104,106,108,110], "labelExpr": "datum.value % 10 == 0 ? datum.label : ''"}},
  "y": {"field": "y", "type": "quantitative", "scale": {"domain": [0, 20], "nice": false}, "axis": {"values": [0, 10, 20]}},
  "strokeWidth": {"field": "s", "type": "nominal", "scale": {"domain": ["2018", "2018 incl 90mm"], "range": [3.5, 1.3]}, "legend": {"legendX": 33, "legendY": 51, "labelFontSize": 13, "rowPadding": 11, "labelOffset": 0}}
 }},
{"width": 543, "height": 153, "title": "Uummannaq - Cod", "data": {"name": "d2019"}, "mark": "line",
 "encoding": {
  "x": {"field": "x", "type": "quantitative", "scale": {"domain": [0, 110], "nice": false}, "axis": {"values": [0,2,4,6,8,10,12,14,16,18,20,22,24,26,28,30,32,34,36,38,40,42,44,46,48,50,52,54,56,58,60,62,64,66,68,70,72,74,76,78,80,82,84,86,88,90,92,94,96,98,100,102,104,106,108,110], "labelExpr": "datum.value % 10 == 0 ? datum.label : ''"}},
  "y": {"field": "y", "type": "quantitative", "scale": {"domain": [0, 20], "nice": false}, "axis": {"values": [0, 10, 20]}},
  "strokeWidth": {"field": "s", "type": "nominal", "scale": {"domain": ["2019", "2019 incl 90mm"], "range": [3.5, 1.3]}, "legend": {"legendX": 20, "legendY": 50, "rowPadding": 11}}
 }},
{"width": 543, "height": 152, "title": "Uummannaq - Cod", "data": {"name": "d2020"}, "mark": "line",
 "encoding": {
  "x": {"field": "x", "type": "quantitative", "scale": {"domain": [0, 110], "nice": false}, "axis": {"values": [0,2,4,6,8,10,12,14,16,18,20,22,24,26,28,30,32,34,36,38,40,42,44,46,48,50,52,54,56,58,60,62,64,66,68,70,72,74,76,78,80,82,84,86,88,90,92,94,96,98,100,102,104,106,108,110], "labelExpr": "datum.value % 10 == 0 ? datum.label : ''"}},
  "y": {"field": "y", "type": "quantitative", "scale": {"domain": [0, 20], "nice": false}, "axis": {"values": [0, 10, 20]}},
  "strokeWidth": {"field": "s", "type": "nominal", "scale": {"domain": ["2020", "2020 incl 90mm"], "range": [3.5, 1.3]}, "legend": {"legendX": 20, "legendY": 48, "rowPadding": 11}}
 }},
{"width": 543, "height": 146, "title": "Uummannaq - Cod", "data": {"name": "d2021"}, "mark": "line",
 "encoding": {
  "x": {"field": "x", "type": "quantitative", "scale": {"domain": [0, 110], "nice": false}, "axis": {"values": [0,2,4,6,8,10,12,14,16,18,20,22,24,26,28,30,32,34,36,38,40,42,44,46,48,50,52,54,56,58,60,62,64,66,68,70,72,74,76,78,80,82,84,86,88,90,92,94,96,98,100,102,104,106,108,110], "labelExpr": "datum.value % 10 == 0 ? datum.label : ''"}},
  "y": {"field": "y", "type": "quantitative", "scale": {"domain": [0, 20], "nice": false}, "axis": {"values": [0, 10, 20]}},
  "strokeWidth": {"field": "s", "type": "nominal", "scale": {"domain": ["2021", "2021 incl 90mm"], "range": [3.5, 1.3]}, "legend": {"legendX": 20, "legendY": 44, "rowPadding": 12}}
 }},
{"width": 543, "height": 144, "title": "Uummannaq - Cod", "data": {"name": "d2022"}, "mark": "line",
 "encoding": {
  "x": {"field": "x", "type": "quantitative", "scale": {"domain": [0, 110], "nice": false}, "axis": {"values": [0,2,4,6,8,10,12,14,16,18,20,22,24,26,28,30,32,34,36,38,40,42,44,46,48,50,52,54,56,58,60,62,64,66,68,70,72,74,76,78,80,82,84,86,88,90,92,94,96,98,100,102,104,106,108,110], "labelExpr": "datum.value % 10 == 0 ? datum.label : ''"}},
  "y": {"field": "y", "type": "quantitative", "scale": {"domain": [0, 20], "nice": false}, "axis": {"values": [0, 10, 20]}},
  "strokeWidth": {"field": "s", "type": "nominal", "scale": {"domain": ["2022", "2022 incl 90mm"], "range": [3.5, 1.3]}, "legend": {"legendX": 20, "legendY": 46, "rowPadding": 9}}
 }}
]
}
